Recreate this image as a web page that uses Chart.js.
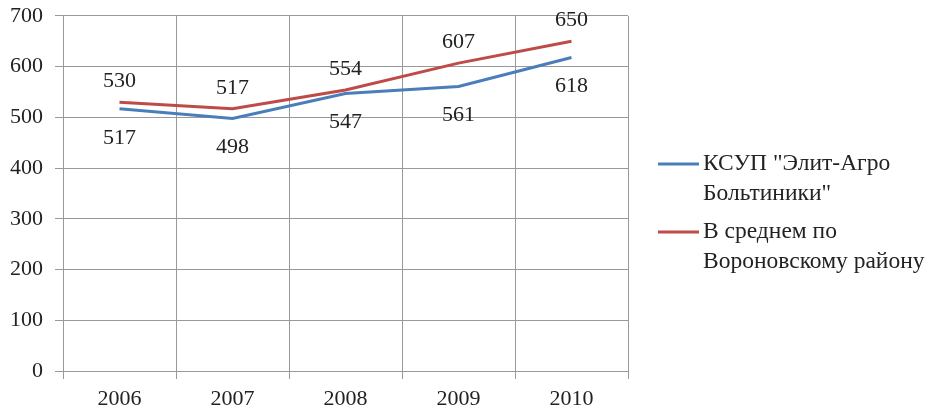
<!DOCTYPE html>
<html>
<head>
<meta charset="utf-8">
<script src="https://cdn.jsdelivr.net/npm/chart.js@4.4.0/dist/chart.umd.min.js"></script>
<style>
  body { margin: 0; background: #fff; }
  #wrap { width: 928px; height: 412px; }
</style>
</head>
<body>
<div id="wrap"><canvas id="chart" width="928" height="412"></canvas></div>
<script>
const years = ["2006", "2007", "2008", "2009", "2010"];
const farmValues = [517, 498, 547, 561, 618];
const districtValues = [530, 517, 554, 607, 650];
const farmLabel = ["КСУП \"Элит-Агро", "Больтиники\""];
const districtLabel = ["В среднем по", "Вороновскому району"];

const serif = "'Liberation Serif', 'DejaVu Serif', serif";

// value labels: red above the point, blue below
const valueLabels = {
  id: "valueLabels",
  afterDatasetsDraw(chart) {
    const ctx = chart.ctx;
    ctx.save();
    ctx.font = "22px " + serif;
    ctx.fillStyle = "#222";
    ctx.textAlign = "center";
    ctx.textBaseline = "middle";
    chart.data.datasets.forEach((ds, i) => {
      const meta = chart.getDatasetMeta(i);
      meta.data.forEach((pt, j) => {
        const dy = ds.labelPos === "above" ? -21 : 29;
        ctx.fillText(ds.data[j], pt.x, pt.y + dy);
      });
    });
    ctx.restore();
  }
};

// legend on the right with wrapped text
const sideLegend = {
  id: "sideLegend",
  afterDraw(chart) {
    const ctx = chart.ctx;
    ctx.save();
    ctx.font = "23.5px " + serif;
    ctx.fillStyle = "#222";
    ctx.textBaseline = "middle";
    const starts = [164, 232];
    chart.data.datasets.forEach((ds, i) => {
      const y = starts[i];
      ctx.strokeStyle = ds.borderColor;
      ctx.lineWidth = 3;
      ctx.beginPath();
      ctx.moveTo(658, y);
      ctx.lineTo(699, y);
      ctx.stroke();
      ds.legendLines.forEach((t, k) => {
        ctx.fillText(t, 703, y + k * 30);
      });
    });
    ctx.restore();
  }
};

new Chart(document.getElementById("chart"), {
  type: "line",
  data: {
    labels: years,
    datasets: [
      {
        label: farmLabel.join(" "),
        legendLines: farmLabel,
        data: farmValues,
        borderColor: "#4a7ebb",
        borderWidth: 3,
        pointRadius: 0,
        tension: 0,
        labelPos: "below"
      },
      {
        label: districtLabel.join(" "),
        legendLines: districtLabel,
        data: districtValues,
        borderColor: "#be4b48",
        borderWidth: 3,
        pointRadius: 0,
        tension: 0,
        labelPos: "above"
      }
    ]
  },
  options: {
    responsive: false,
    animation: false,
    layout: { padding: { top: 0, right: 300, left: 0, bottom: 0 } },
    plugins: {
      legend: { display: false },
      tooltip: { enabled: false }
    },
    scales: {
      x: {
        offset: true,
        afterFit: (axis) => { axis.height = 41; },
        grid: { offset: true, color: "#999", tickLength: 8 },
        border: { color: "#999" },
        ticks: { font: { family: serif, size: 22, lineHeight: 1.1 }, color: "#222", padding: 8 }
      },
      y: {
        min: 0,
        max: 700,
        afterFit: (axis) => { axis.width = 63; },
        ticks: { stepSize: 100, font: { family: serif, size: 22, lineHeight: 0.36 }, color: "#222", padding: 12 },
        grid: { color: "#999", tickLength: 8 },
        border: { color: "#999" }
      }
    }
  },
  plugins: [valueLabels, sideLegend]
});
</script>
</body>
</html>
